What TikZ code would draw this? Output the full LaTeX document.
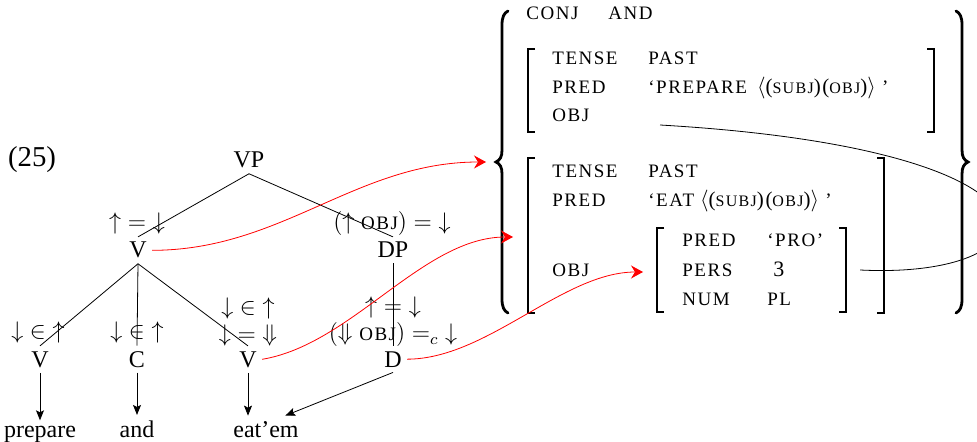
\documentclass[tikz,border=0pt,12pt]{standalone}
\usepackage{fontspec}
\setmainfont{Liberation Serif}
\newfontfamily\avmfont[LetterSpace=8]{Liberation Serif}
\usetikzlibrary{arrows.meta}
\newcommand{\avmfeat}{\fontsize{9.5}{11}\avmfont}
\newcommand{\avmarg}[1]{{\fontsize{8}{9}\avmfont #1}}
\newcommand{\avmdelim}[1]{{\fontsize{10.5}{12}\selectfont #1}}

\begin{document}
\begin{tikzpicture}[x=0.5pt, y=-0.5pt,
    cat/.style={inner sep=2.5pt, anchor=base},
    ann/.style={inner sep=1pt, align=center, font=\fontsize{12}{13.5}\selectfont},
    feat/.style={font=\avmfeat, anchor=base west, inner sep=0pt},
    link/.style={red, -{Stealth[length=6pt,width=6.5pt,inset=2pt]}},
    proj/.style={-{Stealth[length=5pt,width=4pt,inset=1pt]}},
    brk/.style={line width=0.9pt},
    brc/.style={line width=1.4pt, line cap=round}]
  \useasboundingbox (0,0) rectangle (977,442);

  % example number
  \node[cat, font=\fontsize{14.4}{17}\selectfont] (exnum) at (32,167) {(25)};

  % c-structure
  \node[cat] (vp) at (249,168) {VP};
  \node[cat] (v) at (138,258) {V};
  \node[cat] (dp) at (393,258) {DP};
  \foreach \name/\x/\lab in {va/40/V, c/137/C, vb/248/V, d/393/D}
    \node[cat] (\name) at (\x,367) {\lab};
  \foreach \name/\x/\word in {prep/40/prepare, wand/137/and, eatem/266/eat’em}
    \node[cat] (\name) at (\x,437) {\word};

  \draw (vp.south) -- (v.north);
  \draw (vp.south) -- (dp.north);
  \foreach \kid in {va,c,vb}
    \draw (v.south) -- (\kid.north);
  \draw (dp.south) -- (d.north);

  % annotations
  \node[ann] (annv) at (137,224) {${\uparrow}={\downarrow}$};
  \node[ann] (anndp) at (392,224) {$({\uparrow}\;\mbox{\avmfeat OBJ})={\downarrow}$};
  \node[ann] (annva) at (38,332) {${\downarrow}\in{\uparrow}$};
  \node[ann] (annc) at (137,332) {${\downarrow}\in{\uparrow}$};
  \node[ann] (annvb) at (248,322) {${\downarrow}\in{\uparrow}$\\${\downarrow}={\Downarrow}$};
  \node[ann] (annd) at (393,322) {${\uparrow}={\downarrow}$\\$({\Downarrow}\;\mbox{\avmfeat OBJ})=_c{\downarrow}$};

  % words
  \draw[proj] (va.south) -- (prep.north);
  \draw[proj] (c.south) -- (wand.north);
  \draw[proj] (vb.south) -- (vb.south |- eatem.north);
  \draw[proj] (d.south) -- (eatem.35);

  % f-structure: braces
  \draw[brc] (508,11) .. controls (504,13) and (502,17) .. (502,25) -- (502,150)
    .. controls (502,157) and (500,160) .. (496,162) .. controls (500,164) and (502,167) .. (502,174)
    -- (502,299) .. controls (502,307) and (504,311) .. (508,313);
  \draw[brc] (956,11) .. controls (960,13) and (962,17) .. (962,25) -- (962,150)
    .. controls (962,157) and (964,160) .. (968,162) .. controls (964,164) and (962,167) .. (962,174)
    -- (962,299) .. controls (962,307) and (960,311) .. (956,313);

  % f-structure: brackets
  \foreach \l/\r/\t/\b in {528/934/49/132, 528/884/158/313, 657/846/228/312} {
    \draw[brk] (\l+7,\t) -- (\l,\t) -- (\l,\b) -- (\l+7,\b);
    \draw[brk] (\r-7,\t) -- (\r,\t) -- (\r,\b) -- (\r-7,\b);
  }

  % f-structure: features
  \foreach \name/\x/\y/\txt in {conj/526/20/CONJ, conjval/608/20/AND,
      tensea/552/65/TENSE, pasta/648/65/PAST, preda/552/94/PRED, obja/552/122/OBJ,
      tenseb/552/178/TENSE, pastb/648/178/PAST, predb/552/207/PRED, objb/552/277/OBJ,
      predc/682/247/PRED, proc/767/247/‘PRO’, persc/682/277/PERS, numc/682/306/NUM, plc/767/306/PL}
    \node[feat] (\name) at (\x,\y) {\txt};
  \node[feat] (predaval) at (648,94) {‘PREPARE\hspace{5pt}\avmdelim{$\langle$(}\avmarg{SUBJ}\avmdelim{)(}\avmarg{OBJ}\avmdelim{)$\rangle$} ’};
  \node[feat] (predbval) at (648,207) {‘EAT\hspace{3pt}\avmdelim{$\langle$(}\avmarg{SUBJ}\avmdelim{)(}\avmarg{OBJ}\avmdelim{)$\rangle$} ’};
  \node[feat, font=\fontsize{11}{13}\selectfont] (persval) at (773,277) {3};

  % links
  \coordinate (fsall) at (486,162);
  \coordinate (fseat) at (513,237);
  \coordinate (fspro) at (643,272);
  \coordinate (objtag) at (660,125);
  \coordinate (protag) at (860,270);
  \draw[link] (v.east) .. controls +(130,0) and +(-130,0) .. (fsall);
  \draw[link] (vb.east) .. controls +(90,-15) and +(-90,0) .. (fseat);
  \draw[link] (d.east) .. controls +(80,0) and +(-80,0) .. (fspro);
  \draw (objtag) .. controls (1090,150) and (1060,280) .. (protag);
\end{tikzpicture}
\end{document}
